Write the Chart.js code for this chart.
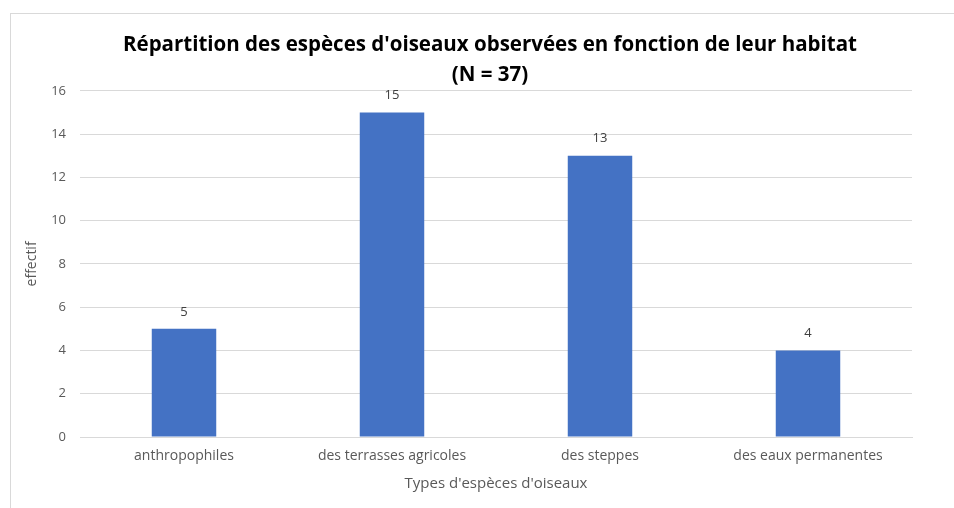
<!DOCTYPE html>
<html>
<head>
<meta charset="utf-8">
<script src="https://cdn.jsdelivr.net/npm/chart.js@4/dist/chart.umd.min.js"></script>
<style>
  html, body { margin: 0; padding: 0; background: #fff; }
  #wrap { position: relative; width: 954px; height: 508px; }
  #frame { position: absolute; left: 10px; top: 13px; width: 960px; height: 500px; border: 1px solid #d9d9d9; }
  canvas { position: absolute; left: 0; top: 0; }
</style>
</head>
<body>
<div id="wrap">
  <div id="frame"></div>
  <canvas id="birdChart" width="954" height="508"></canvas>
</div>
<script>
// chart data
var categories = ["anthropophiles", "des terrasses agricoles", "des steppes", "des eaux permanentes"];
var effectifs = [5, 15, 13, 4];
var title_lines = ["Répartition des espèces d'oiseaux observées en fonction de leur habitat", "(N = 37)"];
var x_title = "Types d'espèces d'oiseaux";
var y_title = "effectif";

var font_family = "'Open Sans', 'Liberation Sans', sans-serif";
var text_grey = "#595959";

// draw the value above each bar
var valueLabels = {
    id: "valueLabels",
    afterDatasetsDraw: function (chart) {
        var ctx = chart.ctx;
        var meta = chart.getDatasetMeta(0);
        ctx.save();
        ctx.font = "13px " + font_family;
        ctx.fillStyle = "#404040";
        ctx.textAlign = "center";
        ctx.textBaseline = "middle";
        meta.data.forEach(function (bar, i) {
            ctx.fillText(effectifs[i], bar.x, bar.y - 17);
        });
        ctx.restore();
    }
};

// the title sits a bit right of the canvas centre
var titleShift = {
    id: "titleShift",
    afterLayout: function (chart) {
        if (chart.titleBlock) {
            chart.titleBlock.left += 48;
        }
    }
};

var bird_chart = new Chart(document.getElementById("birdChart").getContext("2d"), {
    type: "bar",
    data: {
        labels: categories,
        datasets: [{
            label: y_title,
            data: effectifs,
            backgroundColor: "#4472C4",
            borderWidth: 0,
            categoryPercentage: 1,
            barPercentage: 0.31
        }]
    },
    options: {
        responsive: false,
        animation: false,
        layout: {
            padding: { top: 14, left: 20, right: 42, bottom: 11 }
        },
        plugins: {
            legend: { display: false },
            tooltip: { enabled: false },
            title: {
                display: true,
                text: title_lines,
                color: "#000",
                font: { family: font_family, size: 20.5, weight: "bold", lineHeight: 1.46 },
                padding: { top: 16, bottom: 1 }
            }
        },
        scales: {
            x: {
                grid: { display: false, drawTicks: false },
                border: { color: "#d9d9d9" },
                ticks: { color: text_grey, font: { family: font_family, size: 14 }, padding: 11, maxRotation: 0 },
                title: { display: true, text: x_title, color: text_grey, font: { family: font_family, size: 15 }, padding: { top: 5 } },
                afterFit: function (scale) { scale.height = 60; }
            },
            y: {
                min: 0,
                max: 16,
                ticks: { stepSize: 2, color: text_grey, font: { family: font_family, size: 13 }, padding: 14 },
                grid: { color: "#d9d9d9", drawTicks: false },
                border: { display: false },
                title: { display: true, text: y_title, color: text_grey, font: { family: font_family, size: 14 } },
                afterFit: function (scale) { scale.width = 60; }
            }
        }
    },
    plugins: [valueLabels, titleShift]
});
</script>
</body>
</html>
